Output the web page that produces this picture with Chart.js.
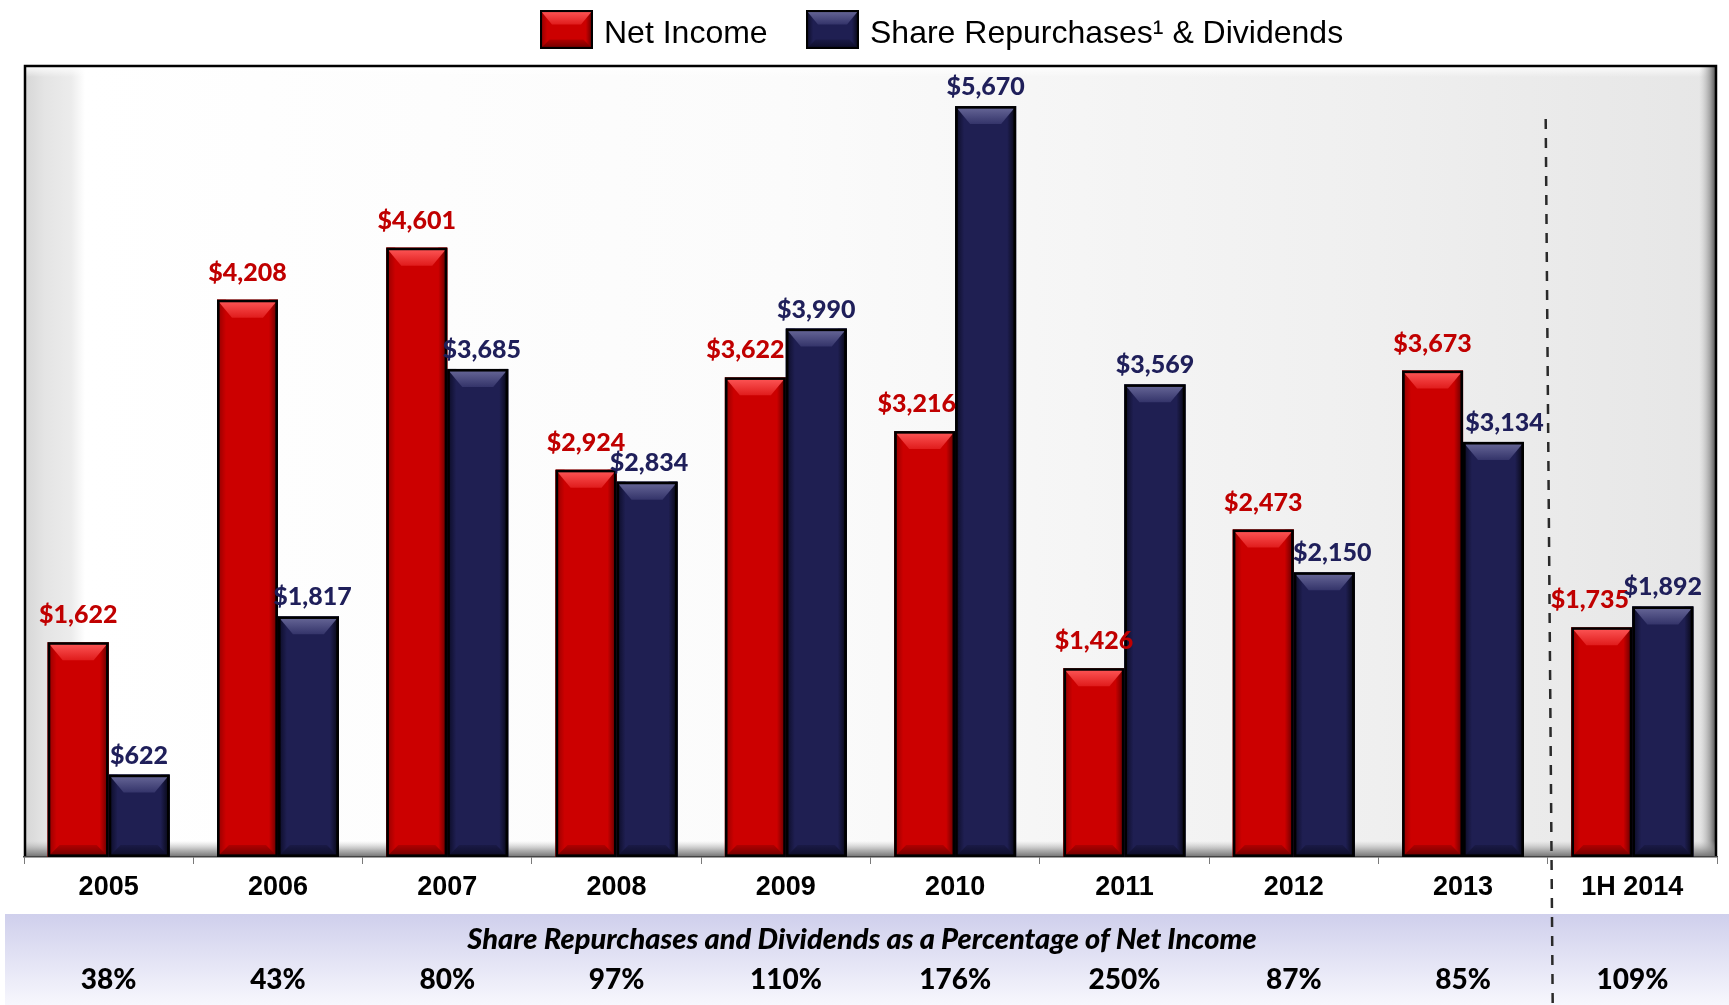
<!DOCTYPE html>
<html><head><meta charset="utf-8">
<script src="https://cdn.jsdelivr.net/npm/chart.js@4.4.0/dist/chart.umd.min.js"></script>
<style>html,body{margin:0;padding:0;background:#fff;overflow:hidden}#wrap{position:relative;width:1729px;height:1005px}</style>
</head><body><div id="wrap"><canvas id="c" width="1729" height="1005"></canvas></div>
<script>
const categories = ['2005','2006','2007','2008','2009','2010','2011','2012','2013','1H 2014'];
const netIncome = [1622,4208,4601,2924,3622,3216,1426,2473,3673,1735];
const repurchasesDividends = [622,1817,3685,2834,3990,5670,3569,2150,3134,1892];
const payoutPercent = ['38%','43%','80%','97%','110%','176%','250%','87%','85%','109%'];
const seriesNames = ['Net Income','Share Repurchases\u00B9 & Dividends'];
const bandTitle = 'Share Repurchases and Dividends as a Percentage of Net Income';

// label placement nudges (px), styling only
const labelNudgeX = [[0,0,0,0,-10,-8,0,0,0,-12],[0,4,4,2,0,0,0,8,11,0]];
const labelGap = [27, 19];

const PAL = [
  {base:'#cc0000', left:'#8e0000', right:'#5a0000', top0:'#ff5a5a', top1:'#e01c1c', bot0:'#6a0000', bot1:'#b00000', label:'#c00000'},
  {base:'#1f1f52', left:'#0a0a22', right:'#05050f', top0:'#6a6a9a', top1:'#34346a', bot0:'#0c0c26', bot1:'#1a1a46', label:'#1f1f5a'}
];

function bevel(ctx, x0, y0, x1, y1, p, s) {
  const w = x1 - x0, h = y1 - y0;
  if (h <= 0) return;
  const side = Math.min(9*s, w/4), top = Math.min(18*s, h/2.2), bot = Math.min(12*s, h/3), diag = Math.min(15*s, w/3);
  ctx.save();
  ctx.fillStyle = p.base; ctx.fillRect(x0, y0, w, h);
  let g = ctx.createLinearGradient(x0, 0, x0 + side, 0);
  g.addColorStop(0, p.left); g.addColorStop(1, p.base);
  ctx.fillStyle = g; ctx.fillRect(x0, y0, side, h);
  g = ctx.createLinearGradient(x1 - side, 0, x1, 0);
  g.addColorStop(0, p.base); g.addColorStop(1, p.right);
  ctx.fillStyle = g; ctx.fillRect(x1 - side, y0, side, h);
  ctx.beginPath(); ctx.moveTo(x0, y0); ctx.lineTo(x1, y0); ctx.lineTo(x1 - diag, y0 + top); ctx.lineTo(x0 + diag, y0 + top); ctx.closePath();
  g = ctx.createLinearGradient(0, y0, 0, y0 + top);
  g.addColorStop(0, p.top0); g.addColorStop(1, p.top1);
  ctx.fillStyle = g; ctx.fill();
  ctx.beginPath(); ctx.moveTo(x0, y1); ctx.lineTo(x1, y1); ctx.lineTo(x1 - diag*0.8, y1 - bot); ctx.lineTo(x0 + diag*0.8, y1 - bot); ctx.closePath();
  g = ctx.createLinearGradient(0, y1 - bot, 0, y1);
  g.addColorStop(0, p.bot1); g.addColorStop(1, p.bot0);
  ctx.fillStyle = g; ctx.fill();
  ctx.lineWidth = 2.6*s; ctx.strokeStyle = '#000';
  ctx.strokeRect(x0 + 1.3*s, y0 + 1.3*s, w - 2.6*s, h - 2.6*s);
  ctx.restore();
}

const decor = {
  id: 'decor',
  beforeDraw(chart) {
    const ctx = chart.ctx, a = chart.chartArea;
    const L = a.left, R = a.right, T = a.top, B = a.bottom;
    ctx.save();
    ctx.fillStyle = '#fff'; ctx.fillRect(0, 0, chart.width, chart.height);
    let g = ctx.createLinearGradient(L, 0, R, 0);
    g.addColorStop(0, '#d6d6d6'); g.addColorStop(0.012, '#e4e4e4'); g.addColorStop(0.028, '#ececec');
    g.addColorStop(0.036, '#ffffff'); g.addColorStop(0.45, '#fbfbfb'); g.addColorStop(0.8, '#efefef'); g.addColorStop(1, '#e6e6e6');
    ctx.fillStyle = g; ctx.fillRect(L, T, R - L, B - T);
    g = ctx.createLinearGradient(0, T, 0, T + 12);
    g.addColorStop(0, '#ffffff'); g.addColorStop(1, 'rgba(255,255,255,0)');
    ctx.fillStyle = g; ctx.fillRect(L, T, R - L, 12);
    g = ctx.createLinearGradient(R - 18, 0, R, 0);
    g.addColorStop(0, 'rgba(200,200,200,0)'); g.addColorStop(0.6, 'rgba(150,150,150,0.8)'); g.addColorStop(1, '#3a3a3a');
    ctx.fillStyle = g; ctx.fillRect(R - 18, T, 18, B - T);
    g = ctx.createLinearGradient(0, B - 16, 0, B);
    g.addColorStop(0, 'rgba(180,180,180,0)'); g.addColorStop(0.6, 'rgba(140,140,140,0.7)'); g.addColorStop(1, '#6e6e6e');
    ctx.fillStyle = g; ctx.fillRect(L, B - 16, R - L, 16);
    ctx.strokeStyle = '#000'; ctx.lineWidth = 2.5;
    ctx.beginPath(); ctx.moveTo(L + 1, B); ctx.lineTo(L + 1, T + 1); ctx.lineTo(R - 1, T + 1); ctx.lineTo(R - 1, B); ctx.stroke();
    g = ctx.createLinearGradient(0, 914, 0, chart.height);
    g.addColorStop(0, '#cfcfec'); g.addColorStop(1, '#f7f7fd');
    ctx.fillStyle = g; ctx.fillRect(5, 914, chart.width - 5, chart.height - 914);
    ctx.restore();
  },
  afterDatasetsDraw(chart) {
    const ctx = chart.ctx;
    chart.data.datasets.forEach((ds, di) => {
      const meta = chart.getDatasetMeta(di);
      meta.data.forEach((el) => {
        bevel(ctx, el.x - el.width/2, el.y, el.x + el.width/2, el.base, PAL[di], 1);
      });
    });
    ctx.save();
    ctx.font = '900 25px Lato, "Open Sans", sans-serif';
    ctx.textAlign = 'center'; ctx.textBaseline = 'middle';
    chart.data.datasets.forEach((ds, di) => {
      const meta = chart.getDatasetMeta(di);
      ctx.fillStyle = PAL[di].label;
      meta.data.forEach((el, i) => {
        ctx.fillText('$' + ds.data[i].toLocaleString('en-US'), el.x + labelNudgeX[di][i], el.y - labelGap[di]);
      });
    });
    ctx.restore();
  },
  afterDraw(chart) {
    const ctx = chart.ctx, xs = chart.scales.x;
    ctx.save();
    const items = [{x: 540, p: PAL[0], t: seriesNames[0]}, {x: 806, p: PAL[1], t: seriesNames[1]}];
    ctx.font = '32px "Liberation Sans", Arial, sans-serif';
    ctx.textBaseline = 'middle'; ctx.textAlign = 'left'; ctx.fillStyle = '#000';
    items.forEach(it => {
      bevel(ctx, it.x, 10, it.x + 53, 49, it.p, 0.8);
      ctx.fillText(it.t, it.x + 64, 34);
    });
    const mid = (xs.getPixelForValue(8) + xs.getPixelForValue(9)) / 2;
    ctx.strokeStyle = '#2a2a2a'; ctx.lineWidth = 2.5; ctx.setLineDash([10, 9]);
    ctx.beginPath(); ctx.moveTo(mid - 2, 119); ctx.lineTo(mid + 5, 1005); ctx.stroke();
    ctx.setLineDash([]);
    ctx.fillStyle = '#000'; ctx.textAlign = 'center';
    ctx.font = 'italic 900 29px Lato, "Open Sans", sans-serif';
    ctx.fillText(bandTitle, 862, 940);
    ctx.font = '900 28px Lato, "Open Sans", sans-serif';
    payoutPercent.forEach((t, i) => ctx.fillText(t, xs.getPixelForValue(i), 980));
    ctx.restore();
  }
};

new Chart(document.getElementById('c'), {
  type: 'bar',
  data: {
    labels: categories,
    datasets: [
      {label: seriesNames[0], data: netIncome, backgroundColor: PAL[0].base, borderWidth: 0},
      {label: seriesNames[1], data: repurchasesDividends, backgroundColor: PAL[1].base, borderWidth: 0}
    ]
  },
  options: {
    responsive: false, animation: false, devicePixelRatio: 1,
    categoryPercentage: 0.72, barPercentage: 1.0,
    layout: {padding: {top: 65, left: 24, right: 12, bottom: 0}},
    plugins: {legend: {display: false}, tooltip: {enabled: false}},
    scales: {
      x: {
        grid: {display: true, drawOnChartArea: false, drawTicks: true, tickLength: 7, color: '#7a7a7a', offset: true},
        border: {display: true, color: '#444', width: 1.5},
        ticks: {font: {family: '"Liberation Sans", Arial, sans-serif', weight: 'bold', size: 27}, color: '#000', padding: 7, maxRotation: 0, autoSkip: false},
        afterFit: s => { s.height = 148; }
      },
      y: {display: false, min: 0, max: 5980}
    }
  },
  plugins: [decor]
});
</script></body></html>
